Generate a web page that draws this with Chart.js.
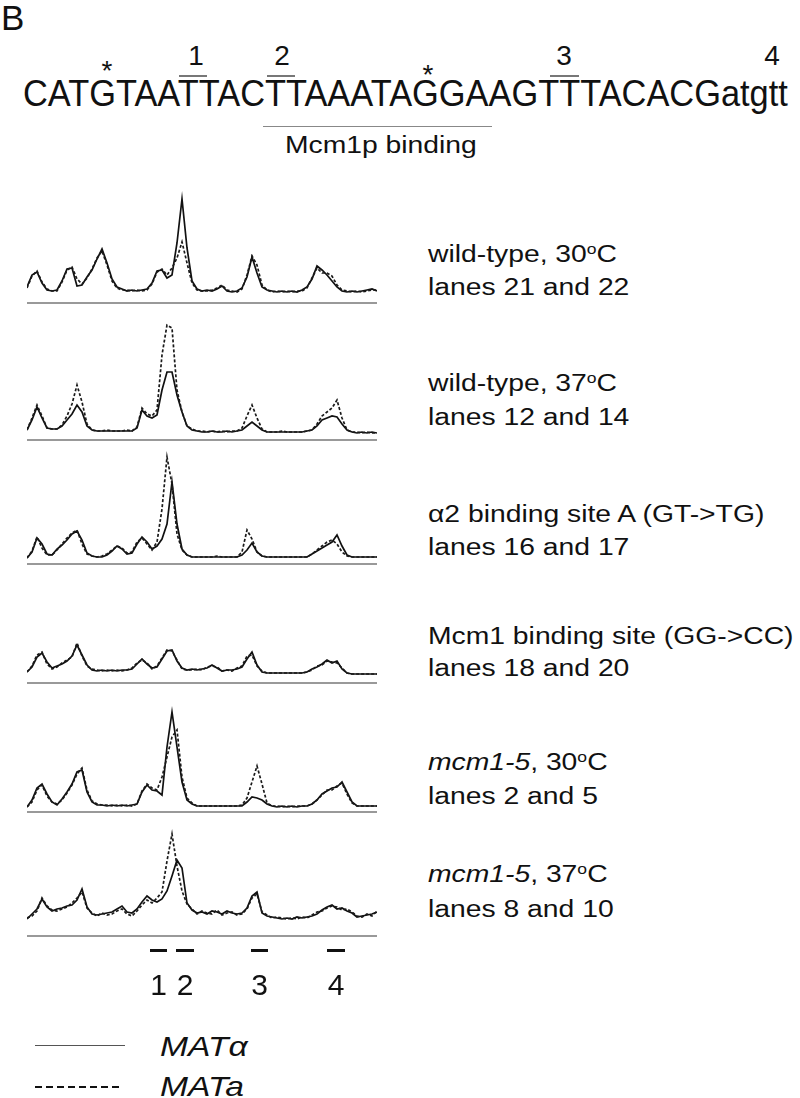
<!DOCTYPE html>
<html>
<head>
<meta charset="utf-8">
<script src="https://cdn.jsdelivr.net/npm/chart.js@4.4.1/dist/chart.umd.min.js"></script>
<style>
  body { margin: 0; background: #fff; }
  #page { position: relative; width: 800px; height: 1098px; overflow: hidden; background: #fff; }
  #page canvas { position: absolute; }
  .t { position: absolute; white-space: nowrap; color: #111;
       font-family: "Liberation Sans", Arial, Helvetica, sans-serif; transform-origin: 0 0; }
  .sup { font-size: 0.62em; position: relative; top: -0.5em; }
  .bar { position: absolute; background: #777; }
</style>
</head>
<body>
<div id="page"></div>
<script>
// positions along the scanned lane (one reading every ~5 px)
const positions = [0,1,2,3,4,5,6,7,8,9,10,11,12,13,14,15,16,17,18,19,20,21,22,23,24,25,26,27,28,29,
  30,31,32,33,34,35,36,37,38,39,40,41,42,43,44,45,46,47,48,49,50,51,52,53,54,55,56,57,58,59,
  60,61,62,63,64,65,66,67,68,69,70];

// wild-type, 30C
const wt30Alpha = [16,28,31,20,13,12,13,22,34,35, 17,18,26,33,44,54,40,24,16,14,
  12,13,12,13,14,20,32,33,25,28, 60,104,55,22,14,12,13,12,14,17,
  12,11,12,15,26,46,30,16,13,12, 11,12,11,12,11,13,16,24,37,33, 28,22,16,12,11,12,11,12,13,14, 12];
const wt30A = [15,27,32,21,14,12,12,21,33,36, 24,19,25,34,45,52,38,22,15,13,
  13,12,13,12,13,19,31,34,28,35, 45,61,40,20,13,12,12,13,15,18,
  13,12,11,14,28,47,38,18,13,11, 12,11,12,11,12,12,15,25,35,30, 30,27,18,13,12,11,12,11,12,13, 13];

// wild-type, 37C
const wt37Alpha = [10,20,33,22,12,11,11,14,20,26, 35,28,14,10,9,9,9,9,9,9,
  9,9,12,30,24,22,25,50,68,68, 45,28,14,10,9,8,8,9,8,8,
  9,8,9,10,14,18,14,10,8,8, 8,8,8,8,8,8,9,10,14,20, 22,24,23,16,10,8,7,8,7,8, 7];
const wt37A = [10,22,35,24,12,11,11,15,24,36, 55,38,16,10,9,9,10,9,9,9,
  10,9,13,32,26,24,30,85,115,112, 50,28,14,11,9,9,8,9,8,9,
  8,9,9,12,24,35,22,11,8,8, 8,9,8,8,8,8,9,10,16,24, 28,32,40,22,10,8,8,7,8,7, 7];

// alpha2 binding site A (GT->TG)
const siteAAlpha = [6,12,26,20,10,9,15,19,24,30, 33,24,11,8,7,7,9,13,18,15,
  10,11,20,27,22,15,18,25,40,82, 40,15,9,7,7,7,7,7,7,7,
  7,7,7,9,14,21,12,8,7,7, 7,7,7,7,7,7,7,10,13,16, 19,22,29,18,9,7,7,7,7,7, 7];
const siteAA = [6,13,27,16,9,9,14,20,26,31, 34,20,10,8,7,8,10,14,18,16,
  11,12,22,26,20,14,22,55,107,80, 30,14,9,7,7,7,7,7,8,7,
  7,7,7,12,34,25,12,8,7,7, 7,7,7,7,7,7,7,10,14,18, 22,24,20,12,8,7,7,7,7,7, 7];

// Mcm1 binding site (GG->CC)
const mcmSiteAlpha = [11,16,26,30,21,15,17,19,22,27, 38,28,18,13,12,13,12,13,12,13,
  13,14,19,24,19,15,16,24,32,33, 22,15,13,14,13,14,15,18,15,12,
  13,13,14,16,24,31,18,11,10,10, 10,10,10,10,10,10,11,14,16,19, 23,20,22,14,10,9,9,9,9,9, 9];
const mcmSiteA = [11,17,28,31,19,14,16,20,23,26, 40,27,17,14,13,12,13,12,13,12,
  13,15,20,23,20,14,17,25,33,32, 23,14,13,13,14,13,16,17,16,12,
  13,12,15,17,27,28,17,12,10,10, 10,10,10,10,10,10,11,13,17,18, 22,21,20,15,10,9,9,9,9,9, 9];

// mcm1-5, 30C
const mcm30Alpha = [5,12,24,28,18,10,7,13,20,28, 40,42,20,10,7,7,6,7,6,7,
  6,7,8,20,27,22,21,17,65,100, 65,30,12,8,6,6,6,6,6,6,
  6,6,6,6,10,15,14,12,8,6, 5,6,5,6,5,6,6,8,12,18, 21,24,25,30,20,10,6,6,6,6, 6];
const mcm30A = [5,10,22,27,16,10,8,12,19,27, 38,44,22,11,8,7,7,6,7,6,
  7,6,8,21,28,24,22,35,55,75, 82,35,14,9,6,6,6,6,6,6,
  6,6,6,7,14,30,46,28,9,6, 6,5,6,5,6,6,6,8,12,17, 22,22,26,29,18,9,6,6,6,6, 6];

// mcm1-5, 37C
const mcm37Alpha = [17,22,27,37,29,25,27,28,30,31, 36,47,29,22,21,22,23,24,27,30,
  24,23,27,34,40,36,34,37,45,60, 76,68,33,26,23,24,22,25,24,22,
  25,23,22,23,28,40,44,23,20,19, 18,17,18,17,19,18,19,20,22,26, 29,31,27,28,25,23,19,20,21,22, 24];
const mcm37A = [18,20,25,38,30,26,25,27,29,33, 38,44,28,23,20,23,21,22,25,27,
  22,20,25,31,36,33,38,44,75,102, 70,45,32,27,22,25,23,22,26,21,
  23,24,21,22,27,38,42,24,21,18, 19,18,17,18,17,19,18,21,24,25, 28,30,29,26,27,24,20,19,22,20, 25];

const panelTitles = ["wild-type, 30<span class='sup'>o</span>C", "wild-type, 37<span class='sup'>o</span>C",
  "&alpha;2 binding site A (GT-&gt;TG)", "Mcm1 binding site (GG-&gt;CC)",
  "<i>mcm1-5</i>, 30<span class='sup'>o</span>C", "<i>mcm1-5</i>, 37<span class='sup'>o</span>C"];
const panelLanes = ["lanes 21 and 22", "lanes 12 and 14", "lanes 16 and 17",
  "lanes 18 and 20", "lanes 2 and 5", "lanes 8 and 10"];

// band markers under the traces (in lane positions)
const bandNames = ["1", "2", "3", "4"];
const bandFrom = [24.6, 29.8, 44.8, 60.0];
const bandTo = [28.0, 33.4, 48.2, 63.6];

const FONT = '"Liberation Sans", Arial, Helvetica, sans-serif';
const page = document.getElementById("page");

function putText(html, x, base, size, opts) {
    opts = opts || {};
    const d = document.createElement("div");
    d.className = "t";
    d.innerHTML = html;
    d.style.fontSize = size + "px";
    d.style.lineHeight = size + "px";
    d.style.left = x + "px";
    d.style.top = (base - 0.8465 * size) + "px";
    if (opts.italic) d.style.fontStyle = "italic";
    const sx = opts.scaleX || 1;
    d.style.transform = (opts.center ? "translateX(-50%) " : "") + "scaleX(" + sx + ")";
    if (opts.center) d.style.transformOrigin = "50% 0";
    page.appendChild(d);
}

function putBar(x1, x2, y, h, color) {
    const b = document.createElement("div");
    b.className = "bar";
    b.style.left = x1 + "px";
    b.style.width = (x2 - x1) + "px";
    b.style.top = y + "px";
    b.style.height = h + "px";
    if (color) b.style.background = color;
    page.appendChild(b);
}

// header: panel letter and promoter sequence
putText("B", 1, 30, 35);
putText("CATGTAATTACTTAAATAGGAAGTTTACACGatgtt", 23, 107, 37.5, {scaleX: 0.917});
putText("1", 196, 66, 28, {center: true});
putText("2", 282, 66, 28, {center: true});
putText("3", 564, 66, 28, {center: true});
putText("4", 772, 66, 28, {center: true});
putBar(179, 207, 75, 1.5);
putBar(267, 295, 75, 1.5);
putBar(550, 579, 75, 1.5);
putText("*", 107, 81, 28, {center: true});
putText("*", 428, 85, 28, {center: true});
putBar(263, 492, 126, 1.2, "#888");
putText("Mcm1p binding", 285, 153, 23, {scaleX: 1.23});

// panel labels on the right
const titleBase = [262, 391, 522, 644, 770, 882];
const lanesBase = [295, 425, 555, 676, 804, 917];
panelTitles.forEach((t, i) => putText(t, 428, titleBase[i], 23, {scaleX: 1.23}));
panelLanes.forEach((t, i) => putText(t, 428, lanesBase[i], 23, {scaleX: 1.23}));

// legend
putBar(35, 125, 1045, 1.2, "#555");
const dash = document.createElement("div");
dash.style.cssText = "position:absolute;left:35px;top:1086px;width:88px;height:2px;" +
    "background:repeating-linear-gradient(90deg,#111 0 7px,transparent 7px 11px);";
page.appendChild(dash);
putText("MAT&alpha;", 160, 1057, 28, {italic: true, scaleX: 1.2});
putText("MATa", 160, 1097, 28, {italic: true, scaleX: 1.2});

const bandMarks = {
    id: "bandMarks",
    afterDraw(chart) {
        const ctx = chart.ctx;
        const xs = chart.scales.x;
        const bottom = chart.chartArea.bottom;
        ctx.save();
        ctx.fillStyle = "#111";
        ctx.font = "30px " + FONT;
        ctx.textAlign = "center";
        ctx.textBaseline = "alphabetic";
        bandNames.forEach((name, i) => {
            const x1 = xs.getPixelForValue(bandFrom[i]);
            const x2 = xs.getPixelForValue(bandTo[i]);
            ctx.fillRect(x1, bottom + 13, x2 - x1, 3);
            ctx.fillText(name, (x1 + x2) / 2, bottom + 59);
        });
        ctx.restore();
    }
};

const panelBase = [303, 440, 564, 683, 812, 936];
const panels = [
    [wt30Alpha, wt30A], [wt37Alpha, wt37A], [siteAAlpha, siteAA],
    [mcmSiteAlpha, mcmSiteA], [mcm30Alpha, mcm30A], [mcm37Alpha, mcm37A]
];

function makePanel(i) {
    const extra = i === panels.length - 1 ? 68 : 0;
    const cv = document.createElement("canvas");
    cv.width = 350;
    cv.height = 130 + extra;
    cv.style.left = "27px";
    cv.style.top = (panelBase[i] - 128) + "px";
    page.appendChild(cv);

    new Chart(cv, {
        type: "line",
        data: {
            labels: positions,
            datasets: [{
                label: "MATa",
                data: panels[i][1],
                borderColor: "#1a1a1a",
                borderWidth: 1.7,
                borderDash: [3, 2],
                pointRadius: 0,
                tension: 0
            }, {
                label: "MATalpha",
                data: panels[i][0],
                borderColor: "#111",
                borderWidth: 1.7,
                pointRadius: 0,
                tension: 0
            }]
        },
        options: {
            responsive: false,
            animation: false,
            layout: { padding: { top: 0, left: 0, right: 0, bottom: 2 + extra } },
            plugins: { legend: { display: false }, tooltip: { enabled: false } },
            scales: {
                x: {
                    display: true,
                    ticks: { display: false },
                    grid: { display: false, drawTicks: false },
                    border: { display: true, color: "#999", width: 2, dash: [1, 1] }
                },
                y: { display: false, min: 0, max: 128 }
            }
        },
        plugins: extra ? [bandMarks] : []
    });
}

panels.forEach((p, i) => makePanel(i));
</script>
</body>
</html>
